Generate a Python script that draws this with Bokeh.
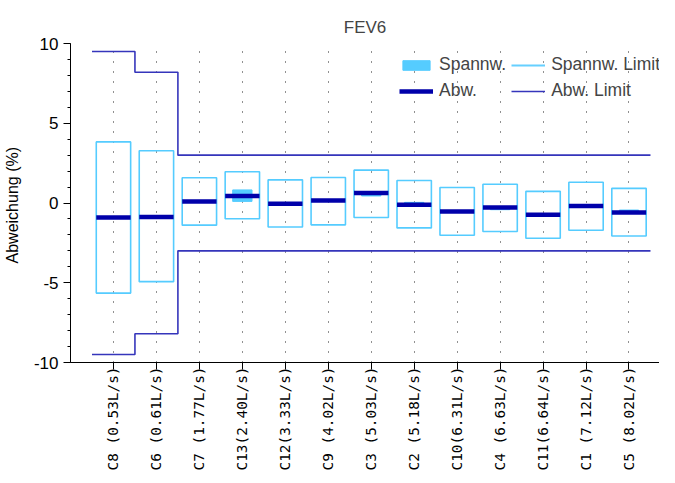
import math
import numpy as np
from bokeh.plotting import figure
from bokeh.models import (Range1d, FixedTicker, SingleIntervalTicker, Legend,
                          LegendItem, ColumnDataSource)
from bokeh.embed import file_html
from bokeh.resources import INLINE

# ---- data -------------------------------------------------------------
categories = ["C8 (0.53L/s)", "C6 (0.61L/s)", "C7 (1.77L/s)", "C13(2.40L/s)",
              "C12(3.33L/s)", "C9 (4.02L/s)", "C3 (5.03L/s)", "C2 (5.18L/s)",
              "C10(6.31L/s)", "C4 (6.63L/s)", "C11(6.64L/s)", "C1 (7.12L/s)",
              "C5 (8.02L/s)"]
abw = [-0.91, -0.87, 0.10, 0.44, -0.04, 0.15, 0.63, -0.11, -0.53, -0.28,
       -0.74, -0.19, -0.59]
spannw_low = [-0.95, -0.92, 0.05, 0.10, -0.08, 0.10, 0.44, -0.15, -0.58,
              -0.42, -0.78, -0.24, -0.65]
spannw_high = [-0.85, -0.82, 0.15, 0.82, 0.00, 0.20, 0.68, 0.04, -0.48,
               -0.22, -0.70, -0.14, -0.44]
spannw_limit_low = [-5.65, -4.93, -1.39, -0.99, -1.50, -1.37, -0.91, -1.56,
                    -2.02, -1.79, -2.21, -1.71, -2.07]
spannw_limit_high = [3.83, 3.28, 1.58, 1.96, 1.45, 1.60, 2.06, 1.41, 0.97,
                     1.18, 0.73, 1.30, 0.92]
abw_limit = [9.5, 8.2, 3.0, 3.0, 3.0, 3.0, 3.0, 3.0, 3.0, 3.0, 3.0, 3.0, 3.0]
y_ticks = [-10, -5, 0, 5, 10]

# ---- derived positions ------------------------------------------------
xs = np.arange(1, len(categories) + 1)
BOX_W = 0.8
FILL_W = 0.45

box_src = ColumnDataSource(dict(left=xs - BOX_W / 2, right=xs + BOX_W / 2,
                                bottom=spannw_limit_low, top=spannw_limit_high))
fill_src = ColumnDataSource(dict(left=xs - FILL_W / 2, right=xs + FILL_W / 2,
                                 bottom=spannw_low, top=spannw_high))
bar_src = ColumnDataSource(dict(x0=xs - BOX_W / 2, x1=xs + BOX_W / 2,
                                y=abw))
step_x = np.column_stack([xs - 0.5, xs + 0.5]).ravel()
step_hi = np.repeat(np.array(abw_limit), 2)
step_lo = -step_hi

LIGHT = "#55ccff"
DARK = "#0000aa"
LIMIT = "#3535bb"

p = figure(width=659, height=473, output_backend="svg", toolbar_location=None,
           x_range=Range1d(0, 13.71), y_range=Range1d(y_ticks[0], y_ticks[-1]),
           min_border_left=66, min_border_right=0, min_border_top=43,
           min_border_bottom=0, title="FEV6")
p.outline_line_color = None
p.background_fill_color = "white"
p.border_fill_color = "white"

p.title.text_font = "Liberation Sans"
p.title.text_font_size = "17px"
p.title.text_font_style = "normal"
p.title.align = "center"
p.title.standoff = 14
p.title.offset = 5

box_r = p.quad(left="left", right="right", bottom="bottom", top="top",
               source=box_src, fill_color=None, line_color=LIGHT,
               line_width=1.6)
fill_r = p.quad(left="left", right="right", bottom="bottom", top="top",
                source=fill_src, fill_color=LIGHT, line_color=LIGHT,
                line_width=1)
bar_r = p.segment(x0="x0", x1="x1", y0="y", y1="y", source=bar_src,
                  line_color=DARK, line_width=4.5)
lim_hi_r = p.line(step_x, step_hi, line_color=LIMIT, line_width=1.6)
lim_lo_r = p.line(step_x, step_lo, line_color=LIMIT, line_width=1.6)
# legend proxy for the limit box outline (drawn as a line in the legend)
box_proxy = p.line(x=[np.nan, np.nan], y=[np.nan, np.nan],
                   line_color="#66d0ff", line_width=2)

# axes
xax = p.xaxis[0]
xax.ticker = FixedTicker(ticks=list(xs))
xax.major_label_overrides = {int(i): c for i, c in zip(xs, categories)}
xax.major_label_orientation = math.pi / 2
xax.major_label_text_font = "DejaVu Sans Mono"
xax.major_label_text_font_size = "14.4px"
xax.major_label_text_color = "black"
xax.major_label_standoff = -3
xax.major_tick_out = 7
xax.major_tick_in = 0
xax.minor_tick_line_color = None
xax.axis_line_color = "black"
xax.major_tick_line_color = "black"

yax = p.yaxis[0]
yax.ticker = SingleIntervalTicker(interval=5, num_minor_ticks=5)
yax.major_label_overrides = {t: str(t) for t in y_ticks}
yax.major_label_text_font = "Liberation Sans"
yax.major_label_text_font_size = "17px"
yax.major_label_text_color = "black"
yax.major_label_standoff = 5
yax.major_tick_out = 7
yax.major_tick_in = 0
yax.minor_tick_out = 3
yax.minor_tick_in = 0
yax.axis_label = "Abweichung  (%)"
yax.axis_label_text_font = "Liberation Sans"
yax.axis_label_text_font_size = "16px"
yax.axis_label_text_font_style = "normal"
yax.axis_label_text_color = "black"
yax.axis_label_standoff = 10
yax.axis_line_color = "black"

p.xgrid.ticker = FixedTicker(ticks=list(xs))
p.xgrid.grid_line_color = "#222222"
p.xgrid.grid_line_dash = "1 9"
p.xgrid.grid_line_width = 1
p.ygrid.grid_line_color = None

legend = Legend(items=[
    LegendItem(label="Spannw.", renderers=[fill_r]),
    LegendItem(label="Spannw. Limit", renderers=[box_proxy]),
    LegendItem(label="Abw.", renderers=[bar_r]),
    LegendItem(label="Abw. Limit", renderers=[lim_hi_r]),
], orientation="horizontal", ncols=2, location=(329, 261))
legend.label_text_font = "Liberation Sans"
legend.label_text_font_size = "17.5px"
legend.label_standoff = 6
legend.glyph_width = 34
legend.glyph_height = 12
legend.spacing = 5
legend.padding = 0
legend.margin = 0
legend.border_line_color = None
legend.background_fill_alpha = 0
p.add_layout(legend, "center")

open("out.html", "w").write(file_html(p, INLINE))
